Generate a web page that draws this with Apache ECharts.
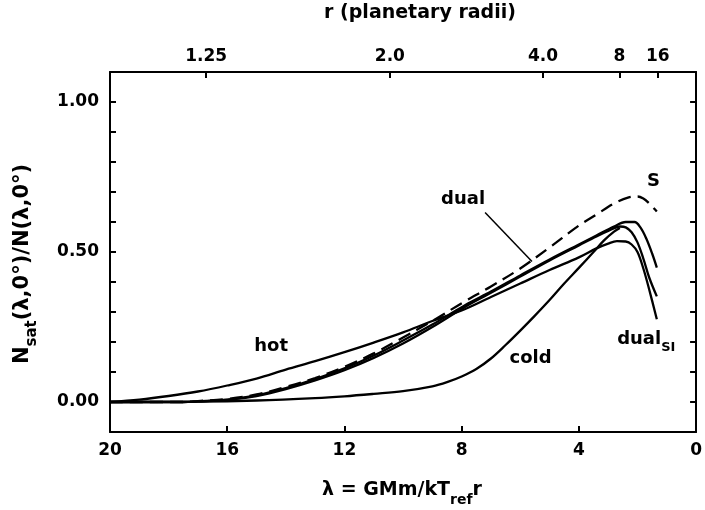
<!DOCTYPE html>
<html>
<head>
<meta charset="utf-8">
<script src="https://cdn.jsdelivr.net/npm/echarts@6/dist/echarts.min.js"></script>
<style>
  html, body { margin: 0; padding: 0; background: #fff; }
  #chart { width: 705px; height: 510px; }
</style>
</head>
<body>
<div id="chart"></div>
<script>
// curves as [lambda, N_sat/N] pairs
const hotCurve = [
  [20, 0], [19, 0.008], [18, 0.02], [17, 0.035], [16, 0.055], [15, 0.078],
  [14, 0.108], [13, 0.136], [12, 0.166], [11, 0.198], [10, 0.232], [9, 0.27],
  [8, 0.305], [7, 0.35], [6, 0.395], [5, 0.44], [4, 0.482], [3.4, 0.512],
  [3, 0.528], [2.7, 0.536], [2.4, 0.535], [2.2, 0.525], [2, 0.5], [1.8, 0.445],
  [1.6, 0.375], [1.34, 0.276]
];
const dualCurve = [
  [20, 0], [17.5, 0], [17, 0.002], [16, 0.008], [15, 0.022], [14, 0.046],
  [13, 0.076], [12, 0.112], [11, 0.155], [10, 0.205], [9, 0.258], [7.9, 0.322],
  [7, 0.368], [6, 0.422], [5, 0.475], [4, 0.525], [3.4, 0.555], [2.8, 0.585],
  [2.4, 0.6], [2.1, 0.6], [1.9, 0.582], [1.7, 0.545], [1.5, 0.495], [1.34, 0.448]
];
const dualSICurve = [
  [20, 0], [17.5, 0], [17, 0.002], [16, 0.007], [15, 0.02], [14, 0.043],
  [13, 0.072], [12, 0.106], [11, 0.147], [10, 0.195], [9, 0.25], [7.9, 0.316],
  [7, 0.364], [6, 0.418], [5, 0.472], [4, 0.522], [3.4, 0.552], [3, 0.57],
  [2.6, 0.585], [2.4, 0.582], [2.2, 0.566], [2, 0.532], [1.8, 0.478],
  [1.6, 0.415], [1.34, 0.352]
];
const coldCurve = [
  [20, 0], [17, 0.001], [15, 0.005], [13, 0.013], [12, 0.019], [11, 0.027],
  [10, 0.036], [9, 0.052], [8.5, 0.066], [8, 0.085], [7.5, 0.11], [7, 0.145],
  [6.5, 0.19], [6, 0.238], [5.5, 0.288], [5, 0.34], [4.5, 0.395], [4, 0.447],
  [3.5, 0.5], [3.15, 0.538], [2.8, 0.568], [2.6, 0.58]
];
const sCurve = [
  [20, 0], [17.5, 0], [17, 0.003], [16, 0.01], [15, 0.025], [14, 0.05],
  [13, 0.08], [12, 0.117], [11, 0.162], [10, 0.215], [9, 0.27], [7.9, 0.335],
  [7, 0.385], [6, 0.445], [5, 0.515], [4, 0.588], [3.4, 0.625], [2.8, 0.662],
  [2.3, 0.682], [2, 0.685], [1.8, 0.678], [1.6, 0.662], [1.34, 0.635]
];
const leaderLine = [[7.2, 0.632], [5.6, 0.468]];

const xTicks = [20, 16, 12, 8, 4, 0];
const yLabels = ['0.00', '0.50', '1.00'];
// top axis: planetary radii, lambda = lambdaRef / r
const lambdaRef = 20.9;
const rTicks = [1.25, 2, 4, 8, 16];
const rLabels = ['1.25', '2.0', '4.0', '8', '16'];

// curve labels: [lambda, value, rich text]
const curveLabels = [
  [14.5, 0.176, '{t|hot}'],
  [7.95, 0.664, '{t|dual}'],
  [1.45, 0.724, '{t|S}'],
  [5.65, 0.136, '{t|cold}'],
  [1.7, 0.2, '{t|dual}{s|SI}']
];

const FONT = 'DejaVu Sans';
const chart = echarts.init(document.getElementById('chart'));

const lineSeries = (name, data, extra) => Object.assign({
  name: name,
  type: 'line',
  data: data,
  smooth: 0.35,
  showSymbol: false,
  silent: true,
  lineStyle: { color: '#000', width: 2.3 },
}, extra || {});

const axisLine = { show: true, onZero: false, lineStyle: { color: '#000', width: 2 } };
const tickFont = { color: '#000', fontFamily: FONT, fontSize: 17, fontWeight: 'bold' };

const option = {
  animation: false,
  grid: { left: 110, right: 5, top: 72, bottom: 78 },
  xAxis: [
    {
      type: 'value',
      min: 0,
      max: 20,
      interval: 4,
      inverse: true,
      axisLine: axisLine,
      axisTick: { inside: true, length: 6, lineStyle: { color: '#000', width: 2 } },
      axisLabel: Object.assign({
        margin: 10,
        formatter: (v) => (xTicks.indexOf(v) >= 0 ? String(v) : ''),
      }, tickFont),
      splitLine: { show: false },
    },
    {
      type: 'value',
      position: 'top',
      min: 0,
      max: 20,
      inverse: true,
      axisLine: axisLine,
      axisTick: {
        inside: true, length: 6, lineStyle: { color: '#000', width: 2 },
        customValues: rTicks.map((r) => lambdaRef / r),
      },
      axisLabel: Object.assign({
        margin: 7,
        customValues: rTicks.map((r) => lambdaRef / r),
        formatter: (v) => {
          const i = rTicks.findIndex((r) => Math.abs(lambdaRef / r - v) < 1e-6);
          return i >= 0 ? rLabels[i] : '';
        },
      }, tickFont),
      splitLine: { show: false },
    },
  ],
  yAxis: [
    {
      type: 'value',
      min: -0.1,
      max: 1.1,
      interval: 0.1,
      axisLine: axisLine,
      axisTick: { inside: true, length: 6, lineStyle: { color: '#000', width: 2 } },
      axisLabel: Object.assign({
        margin: 11,
        formatter: (v) => {
          const k = Math.round(v * 100);
          return k >= 0 && k % 50 === 0 ? yLabels[k / 50] : '';
        },
      }, tickFont),
      splitLine: { show: false },
    },
    {
      type: 'value',
      position: 'right',
      min: -0.1,
      max: 1.1,
      interval: 0.1,
      axisLine: axisLine,
      axisTick: { inside: true, length: 6, lineStyle: { color: '#000', width: 2 } },
      axisLabel: { show: false },
      splitLine: { show: false },
    },
  ],
  series: [
    lineSeries('hot', hotCurve),
    lineSeries('dual', dualCurve),
    lineSeries('dualSI', dualSICurve),
    lineSeries('cold', coldCurve),
    lineSeries('S', sCurve, { lineStyle: { color: '#000', width: 2.3, type: [13, 7] } }),
    lineSeries('leader', leaderLine, { smooth: false, lineStyle: { color: '#000', width: 1.5 } }),
  ],
};

chart.setOption(option);

const richStyles = {
  t: { fontFamily: FONT, fontSize: 18, fontWeight: 'bold', color: '#000', lineHeight: 24, verticalAlign: 'top' },
  s: { fontFamily: FONT, fontSize: 13, fontWeight: 'bold', color: '#000', lineHeight: 24, verticalAlign: 'bottom' },
  T: { fontFamily: FONT, fontSize: 19, fontWeight: 'bold', color: '#000', lineHeight: 26, verticalAlign: 'top' },
  S: { fontFamily: FONT, fontSize: 14, fontWeight: 'bold', color: '#000', lineHeight: 26, verticalAlign: 'bottom' },
  Y: { fontFamily: FONT, fontSize: 21, fontWeight: 'bold', color: '#000', lineHeight: 28, verticalAlign: 'top' },
  Z: { fontFamily: FONT, fontSize: 15, fontWeight: 'bold', color: '#000', lineHeight: 28, verticalAlign: 'bottom' },
};

const graphics = curveLabels.map(([lam, val, txt]) => {
  const p = chart.convertToPixel({ xAxisIndex: 0, yAxisIndex: 0 }, [lam, val]);
  return {
    type: 'text', x: p[0], y: p[1], silent: true,
    style: { text: txt, rich: richStyles, align: 'center', verticalAlign: 'middle' },
  };
});

graphics.push(
  {
    type: 'text', x: 420, y: 17, silent: true,
    style: { text: '{T|r (planetary radii)}', rich: richStyles, align: 'center', verticalAlign: 'middle' },
  },
  {
    type: 'text', x: 402, y: 494, silent: true,
    style: { text: '{T|λ = GMm/kT}{S|ref}{T|r}', rich: richStyles, align: 'center', verticalAlign: 'middle' },
  },
  {
    type: 'text', x: 26, y: 264, rotation: Math.PI / 2, silent: true,
    style: { text: '{Y|N}{Z|sat}{Y|(λ,0°)/N(λ,0°)}', rich: richStyles, align: 'center', verticalAlign: 'middle' },
  }
);

chart.setOption({ graphic: graphics });
</script>
</body>
</html>
